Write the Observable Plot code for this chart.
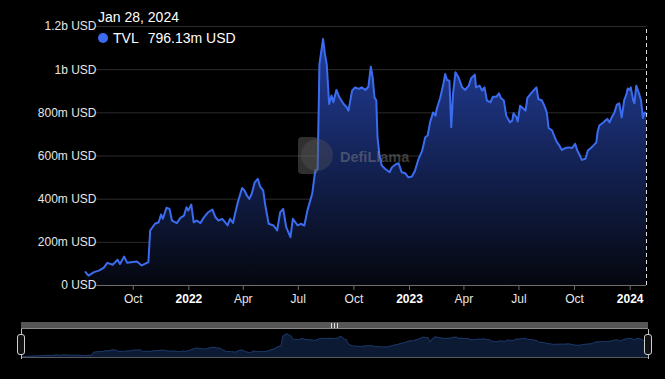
<!DOCTYPE html>
<html><head><meta charset="utf-8">
<script src="https://cdn.jsdelivr.net/npm/d3@7"></script>
<script src="https://cdn.jsdelivr.net/npm/@observablehq/plot@0.6"></script>
<style>
html,body{margin:0;padding:0;background:#000;width:665px;height:379px;overflow:hidden;font-family:"Liberation Sans",Arial,sans-serif;}
#wrap{position:relative;width:665px;height:379px;}
#main,#slider{position:absolute;left:0;}
#main{top:0;} #slider{top:310px;}
svg{display:block;}
.abs{position:absolute;}
#hdrDate{left:98px;top:10px;font-size:14px;line-height:14px;color:#fff;white-space:nowrap;}
#hdrVal{left:98px;top:31px;font-size:14px;line-height:14px;color:#fff;white-space:nowrap;}
#dot{left:98px;top:33px;width:10px;height:10px;border-radius:50%;background:#3b6cf0;}
#wm{left:0;top:0;width:665px;height:310px;pointer-events:none;}
#bar{left:21px;top:322px;width:627px;height:6px;background:#565656;border-bottom:1px solid #8a8a8a;}
#grip{left:331px;top:323px;width:7px;height:5px;}
#grip i{position:absolute;top:0;width:1px;height:5px;background:#ddd;}
#sbottom{left:21px;top:357px;width:627px;height:1px;background:#5a5a5a;}
.hline{width:1px;background:#bdbdbd;}
.handle{width:6px;height:19px;border:1px solid #cfcfcf;border-radius:3px;background:#111;}
</style></head><body>
<div id="wrap">
  <div id="main"></div>
  <div id="slider"></div>
  <svg id="wm" class="abs" width="665" height="310">
    <rect x="298" y="137" width="20" height="37" rx="4" fill="#6a6a6a" fill-opacity="0.45"></rect>
    <circle cx="317" cy="155" r="16" fill="#5a5a5a" fill-opacity="0.35"></circle>
    <text x="340" y="162" font-family="Liberation Sans, Arial, sans-serif" font-weight="bold" font-size="14.5" fill="#8a8a8a" fill-opacity="0.45">DefiLlama</text>
  </svg>
  <div id="hdrDate" class="abs">Jan 28, 2024</div>
  <div id="dot" class="abs"></div>
  <div id="hdrVal" class="abs"><span style="margin-left:15px">TVL</span><span style="margin-left:9px">796.13m USD</span></div>
  <div id="bar" class="abs"></div>
  <div id="grip" class="abs"><i style="left:0"></i><i style="left:3px"></i><i style="left:6px"></i></div>
  <div id="sbottom" class="abs"></div>
  <div class="abs hline" style="left:21px;top:329px;height:5px"></div>
  <div class="abs hline" style="left:21px;top:354px;height:5px"></div>
  <div class="abs handle" style="left:17px;top:334px"></div>
  <div class="abs hline" style="left:648px;top:329px;height:5px"></div>
  <div class="abs hline" style="left:648px;top:354px;height:5px"></div>
  <div class="abs handle" style="left:644px;top:334px"></div>
</div>
<script>
// ---- data (TVL in millions USD) ----
const dates = ["2021-07-14","2021-07-19","2021-07-28","2021-08-05","2021-08-13","2021-08-19","2021-08-28","2021-09-05","2021-09-09","2021-09-16","2021-09-21","2021-10-07","2021-10-15","2021-10-26","2021-10-29","2021-11-06","2021-11-12","2021-11-16","2021-11-19","2021-11-25","2021-11-30","2021-12-04","2021-12-12","2021-12-18","2021-12-24","2021-12-28","2021-12-31",
"2022-01-05","2022-01-09","2022-01-14","2022-01-20","2022-01-26","2022-02-01","2022-02-09","2022-02-14","2022-02-19","2022-02-25","2022-03-02","2022-03-06","2022-03-10","2022-03-15","2022-03-19","2022-03-23","2022-03-30","2022-04-03","2022-04-07","2022-04-11","2022-04-15","2022-04-20","2022-04-25","2022-04-29","2022-05-04","2022-05-07","2022-05-13","2022-05-21","2022-05-27","2022-06-01","2022-06-06","2022-06-11","2022-06-18","2022-06-22","2022-06-30","2022-07-05","2022-07-11","2022-07-16","2022-07-24","2022-07-29","2022-08-02","2022-08-05","2022-08-11","2022-08-14","2022-08-17","2022-08-21","2022-08-25","2022-08-28","2022-09-02","2022-09-07","2022-09-14","2022-09-19","2022-09-22","2022-09-28","2022-10-03","2022-10-09","2022-10-14","2022-10-20","2022-10-25","2022-10-29","2022-11-01","2022-11-04","2022-11-07","2022-11-09","2022-11-12","2022-11-16","2022-11-22","2022-11-29","2022-12-03","2022-12-10","2022-12-14","2022-12-19","2022-12-25","2022-12-30",
"2023-01-05","2023-01-10","2023-01-16","2023-01-22","2023-01-27","2023-01-31","2023-02-04","2023-02-09","2023-02-13","2023-02-15","2023-02-21","2023-02-26","2023-03-01","2023-03-04","2023-03-08","2023-03-11","2023-03-14","2023-03-18","2023-03-23","2023-03-29","2023-04-03","2023-04-09","2023-04-13","2023-04-19","2023-04-21","2023-04-27","2023-05-01","2023-05-05","2023-05-09","2023-05-15","2023-05-19","2023-05-25","2023-05-29","2023-06-01","2023-06-06","2023-06-10","2023-06-16","2023-06-20","2023-06-22","2023-06-27","2023-06-29","2023-07-03","2023-07-09","2023-07-12","2023-07-15","2023-07-21","2023-07-25","2023-07-30","2023-08-02","2023-08-08","2023-08-12","2023-08-16","2023-08-19","2023-08-25","2023-08-27","2023-09-01","2023-09-06","2023-09-10","2023-09-16","2023-09-21","2023-09-27","2023-10-02","2023-10-06","2023-10-09","2023-10-13","2023-10-19","2023-10-23","2023-10-28","2023-11-01","2023-11-06","2023-11-08","2023-11-11","2023-11-18","2023-11-24","2023-11-28","2023-12-02","2023-12-06","2023-12-10","2023-12-14","2023-12-18","2023-12-22","2023-12-26","2023-12-28","2023-12-31",
"2024-01-02","2024-01-06","2024-01-08","2024-01-11","2024-01-15","2024-01-19","2024-01-22","2024-01-25","2024-01-28"];
const tvl = [62,46,62,69,82,105,96,119,100,134,105,111,93,108,255,286,293,329,309,360,355,301,289,313,324,363,347,
375,293,301,289,316,337,352,316,301,309,293,278,309,290,339,386,452,440,417,401,425,478,494,458,440,378,286,278,255,339,355,270,224,309,278,286,278,347,425,532,540,1026,1142,1073,1026,841,880,849,906,872,841,826,810,903,918,911,918,906,921,1014,964,872,857,687,610,556,540,525,548,563,566,525,520,501,
505,532,587,625,687,695,756,802,787,818,872,934,980,952,949,733,888,988,964,918,906,926,960,977,918,926,903,918,857,849,875,875,890,869,857,787,756,764,798,779,760,833,818,810,869,890,903,918,864,857,833,802,730,718,702,668,648,628,637,640,637,656,622,607,582,587,625,637,648,663,710,741,756,772,756,782,802,838,844,779,857,888,913,906,
918,857,844,926,895,857,776,802,796.13];

const yTicks = [0,200,400,600,800,1000,1200];
const yTickLabels = ["0 USD","200m USD","400m USD","600m USD","800m USD","1b USD","1.2b USD"];
const monthTicks = ["2021-10-01","2022-04-01","2022-07-01","2022-10-01","2023-04-01","2023-07-01","2023-10-01"];
const monthLabels = ["Oct","Apr","Jul","Oct","Apr","Jul","Oct"];
const yearTicks = ["2022-01-01","2023-01-01","2024-01-01"];
const yearLabels = ["2022","2023","2024"];
const gridStartDate = "2021-08-02";

// ---- build ----
const data = dates.map((d,i)=>({date:new Date(d), tvl:tvl[i]}));
const xDomain = [new Date(dates[0]), new Date(dates[dates.length-1])];
const gridStart = new Date(gridStartDate);
const yLab = new Map(yTicks.map((v,i)=>[v,yTickLabels[i]]));
const mTickD = monthTicks.map(d=>new Date(d));
const yTickD = yearTicks.map(d=>new Date(d));
const mLab = new Map(mTickD.map((d,i)=>[+d,monthLabels[i]]));
const yrLab = new Map(yTickD.map((d,i)=>[+d,yearLabels[i]]));
const font = "Liberation Sans, Arial, sans-serif";

const main = Plot.plot({
  width:665, height:310, marginLeft:85, marginRight:19, marginTop:26, marginBottom:25,
  style:{background:"transparent", color:"#e6e6e6", fontFamily:font, fontSize:"12px"},
  x:{type:"utc", domain:xDomain, axis:null, label:null},
  y:{domain:[0,1200], axis:null, label:null},
  marks:[
    Plot.ruleY(yTicks.filter(v=>v>0), {x1:gridStart, x2:xDomain[1], stroke:"#2c2c2c", strokeWidth:1}),
    Plot.areaY(data, {x:"date", y:"tvl", fill:"url(#tvlGrad)"}),
    Plot.lineY(data, {x:"date", y:"tvl", stroke:"#3b6cf0", strokeWidth:2}),
    Plot.ruleY([0], {x1:gridStart, x2:xDomain[1], stroke:"#6e6e6e", strokeWidth:1}),
    Plot.axisY({ticks:yTicks, tickFormat:v=>yLab.get(v), tickSize:0, tickPadding:0, dx:11, fill:"#e6e6e6", fontSize:12, label:null}),
    Plot.axisX({ticks:mTickD, tickFormat:d=>mLab.get(+d), tickSize:5, tickPadding:4, stroke:"#6e6e6e", fill:"#e6e6e6", fontSize:12, label:null}),
    Plot.axisX({ticks:yTickD, tickFormat:d=>yrLab.get(+d), tickSize:5, tickPadding:4, stroke:"#6e6e6e", fill:"#ffffff", fontWeight:"bold", fontSize:12, label:null}),
    Plot.ruleX([xDomain[1]], {y1:0, y2:1200, stroke:"#dddddd", strokeWidth:1, strokeDasharray:"4,3"})
  ]
});
const defs = d3.select(main).insert("defs", ":first-child");
const g = defs.append("linearGradient").attr("id","tvlGrad").attr("x1",0).attr("y1",0).attr("x2",0).attr("y2",1);
g.append("stop").attr("offset","0%").attr("stop-color","rgb(34,62,156)");
g.append("stop").attr("offset","100%").attr("stop-color","rgb(5,7,14)");
document.getElementById("main").appendChild(main);

const slider = Plot.plot({
  width:665, height:69, marginLeft:21, marginRight:17, marginTop:23, marginBottom:22,
  style:{background:"transparent"},
  x:{type:"utc", domain:xDomain, axis:null},
  y:{domain:[0,1150], axis:null},
  marks:[
    Plot.areaY(data, {x:"date", y:"tvl", fill:"#0c1a33"}),
    Plot.lineY(data, {x:"date", y:"tvl", stroke:"#1c3768", strokeWidth:1})
  ]
});
document.getElementById("slider").appendChild(slider);
</script>
</body></html>
